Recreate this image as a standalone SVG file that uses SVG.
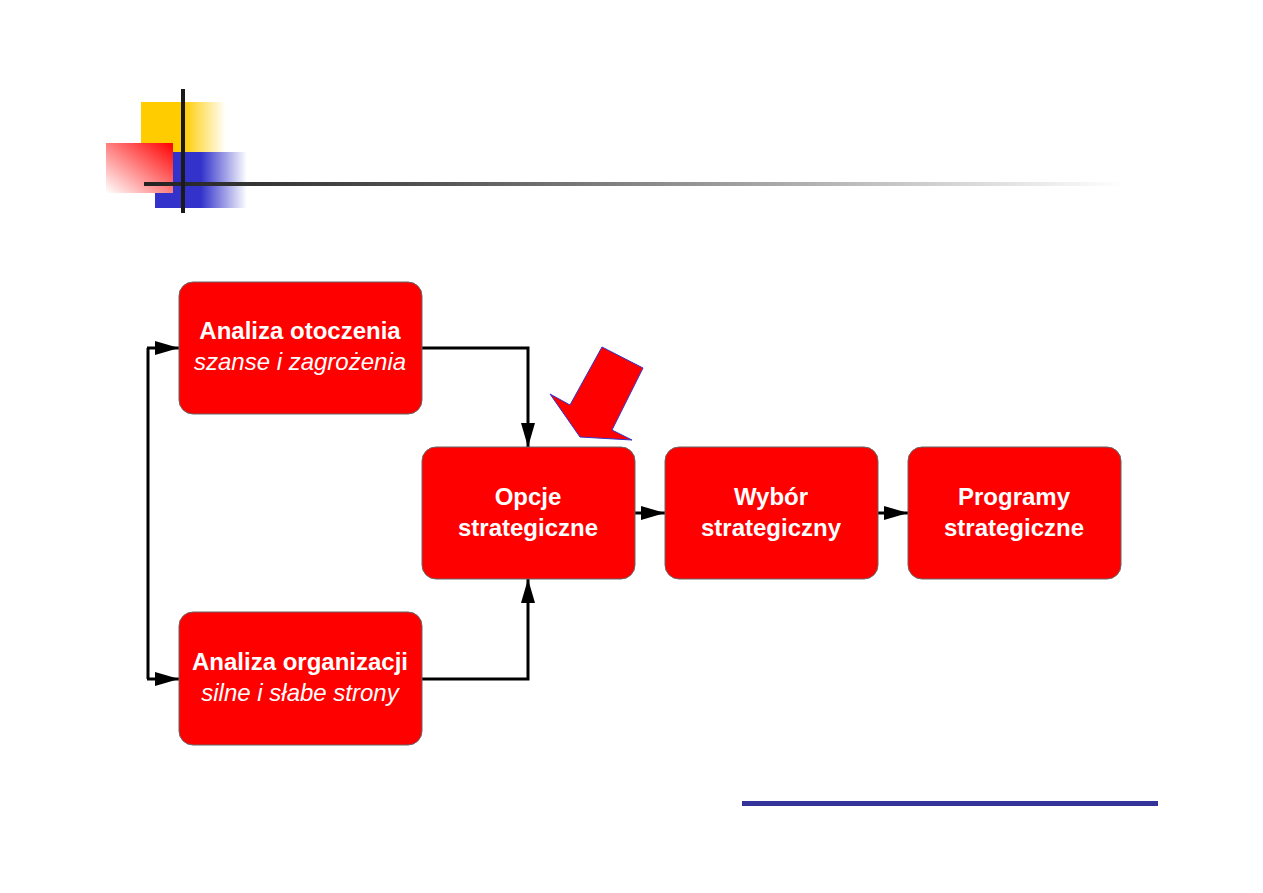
<svg xmlns="http://www.w3.org/2000/svg" width="1263" height="893" viewBox="0 0 1263 893">
<defs>
<linearGradient id="gy" x1="0" y1="0" x2="1" y2="0">
<stop offset="0" stop-color="#ffcc00"/><stop offset="0.5" stop-color="#ffcc00"/><stop offset="1" stop-color="#ffffff"/>
</linearGradient>
<linearGradient id="gb" x1="0" y1="0" x2="1" y2="0">
<stop offset="0" stop-color="#3333cc"/><stop offset="0.5" stop-color="#3333cc"/><stop offset="1" stop-color="#ffffff"/>
</linearGradient>
<linearGradient id="gr" x1="1" y1="0" x2="0" y2="1">
<stop offset="0" stop-color="#ff0000"/><stop offset="1" stop-color="#ffffff"/>
</linearGradient>
<linearGradient id="gl" x1="0" y1="0" x2="1" y2="0">
<stop offset="0" stop-color="#222222"/><stop offset="0.3" stop-color="#555555"/><stop offset="1" stop-color="#ffffff"/>
</linearGradient>
<marker id="ah" markerWidth="24" markerHeight="14" refX="24" refY="7" orient="auto" markerUnits="userSpaceOnUse">
<path d="M0,0 L24,7 L0,14 Z" fill="#000"/>
</marker>
<style>
.box{fill:#ff0000;stroke:#666;stroke-width:1}
.t{font-family:"Liberation Sans",Arial,sans-serif;font-size:24px;fill:#fff;text-anchor:middle}
.b{font-weight:bold}
.i{font-style:italic}
.c{fill:none;stroke:#000;stroke-width:3}
</style>
</defs>
<g id="header">
<rect x="141" y="102" width="85" height="50" fill="url(#gy)"/>
<rect x="155" y="152" width="92" height="56" fill="url(#gb)"/>
<rect x="106" y="143" width="67" height="50" fill="url(#gr)"/>
<rect x="144" y="182" width="980" height="4" fill="url(#gl)"/>
<rect x="181" y="89" width="4" height="124" fill="#1a1a1a"/>
</g>
<g id="connectors">
<polyline class="c" points="148,348 148,679"/>
<polyline class="c" points="147,348 179,348" marker-end="url(#ah)"/>
<polyline class="c" points="147,679 179,679" marker-end="url(#ah)"/>
<polyline class="c" points="422,348 528,348 528,447" marker-end="url(#ah)"/>
<polyline class="c" points="422,679 528,679 528,579" marker-end="url(#ah)"/>
<line class="c" x1="635" y1="513" x2="665" y2="513" marker-end="url(#ah)"/>
<line class="c" x1="878" y1="513" x2="908" y2="513" marker-end="url(#ah)"/>
</g>
<g id="n1">
<rect class="box" x="179" y="282" width="243" height="132" rx="14"/>
<text class="t b" x="300" y="339">Analiza otoczenia</text>
<text class="t i" x="300" y="370">szanse i zagrożenia</text>
</g>
<g id="n2">
<rect class="box" x="179" y="612" width="243" height="133" rx="14"/>
<text class="t b" x="300" y="670">Analiza organizacji</text>
<text class="t i" x="300" y="701">silne i słabe strony</text>
</g>
<g id="n3">
<rect class="box" x="422" y="447" width="213" height="132" rx="14"/>
<text class="t b" x="528" y="505">Opcje</text>
<text class="t b" x="528" y="536">strategiczne</text>
</g>
<g id="n4">
<rect class="box" x="665" y="447" width="213" height="132" rx="14"/>
<text class="t b" x="771" y="505">Wybór</text>
<text class="t b" x="771" y="536">strategiczny</text>
</g>
<g id="n5">
<rect class="box" x="908" y="447" width="213" height="132" rx="14"/>
<text class="t b" x="1014" y="505">Programy</text>
<text class="t b" x="1014" y="536">strategiczne</text>
</g>
<g id="bigarrow">
<polygon points="602,347 643,368 612,430 632,440 580,437 550,394 570,405" fill="#ff0000" stroke="#3333cc" stroke-width="1"/>
</g>
<rect x="742" y="801" width="416" height="5" fill="#333399"/>
</svg>
